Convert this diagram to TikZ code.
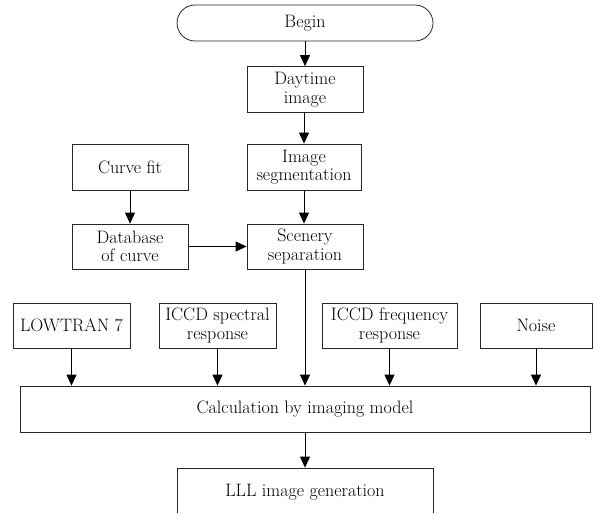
\documentclass[tikz,border=0pt]{standalone}
\usetikzlibrary{arrows.meta}
\begin{document}
\begin{tikzpicture}[x=1pt,y=-1pt,
  box/.style={draw=black!85,line width=0.8pt,rectangle,align=center,inner sep=1pt,
    font=\fontsize{18}{18.5}\selectfont},
  term/.style={box,rounded corners=18pt},
  arr/.style={draw=black,line width=0.8pt,-{Triangle[length=11pt,width=10pt]}}]
\useasboundingbox (0,0) rectangle (594,513);
\node[term,minimum width=256pt,minimum height=36pt] (begin) at (305,23) {Begin};
\node[box,minimum width=116pt,minimum height=46pt] (day) at (305,89.5) {Daytime\\image};
\node[box,minimum width=114pt,minimum height=46pt] (seg) at (304,167) {Image\\segmentation};
\node[box,minimum width=116pt,minimum height=46pt] (fit) at (130,167) {Curve fit};
\node[box,minimum width=116pt,minimum height=45pt] (db) at (130,246.5) {Database\\of curve};
\node[box,minimum width=116pt,minimum height=45pt] (scen) at (305,246.5) {Scenery\\separation};
\node[box,minimum width=117pt,minimum height=45pt] (low) at (71.5,325.5) {LOWTRAN 7};
\node[box,minimum width=117pt,minimum height=45pt] (spec) at (217.5,325.5) {ICCD spectral\\response};
\node[box,minimum width=135pt,minimum height=45pt] (freq) at (389.5,325.5) {ICCD frequency\\response};
\node[box,minimum width=112pt,minimum height=45pt] (noise) at (536,325.5) {Noise};
\node[box,minimum width=570pt,minimum height=46pt] (calc) at (305,409) {Calculation by imaging model};
\node[box,minimum width=256pt,minimum height=48pt] (lll) at (305,492) {LLL image generation};
\draw[arr] (begin) -- (day);
\draw[arr] (day.south -| seg.north) -- (seg.north);
\draw[arr] (seg.south) -- (seg.south |- scen.north);
\draw[arr] (fit) -- (db);
\draw[arr] (db) -- (scen);
\draw[arr] (low.south) -- (low.south |- calc.north);
\draw[arr] (spec.south) -- (spec.south |- calc.north);
\draw[arr] (scen.south) -- (scen.south |- calc.north);
\draw[arr] (freq.south) -- (freq.south |- calc.north);
\draw[arr] (noise.south) -- (noise.south |- calc.north);
\draw[arr] (calc.south -| lll.north) -- (lll.north);
\end{tikzpicture}
\end{document}
